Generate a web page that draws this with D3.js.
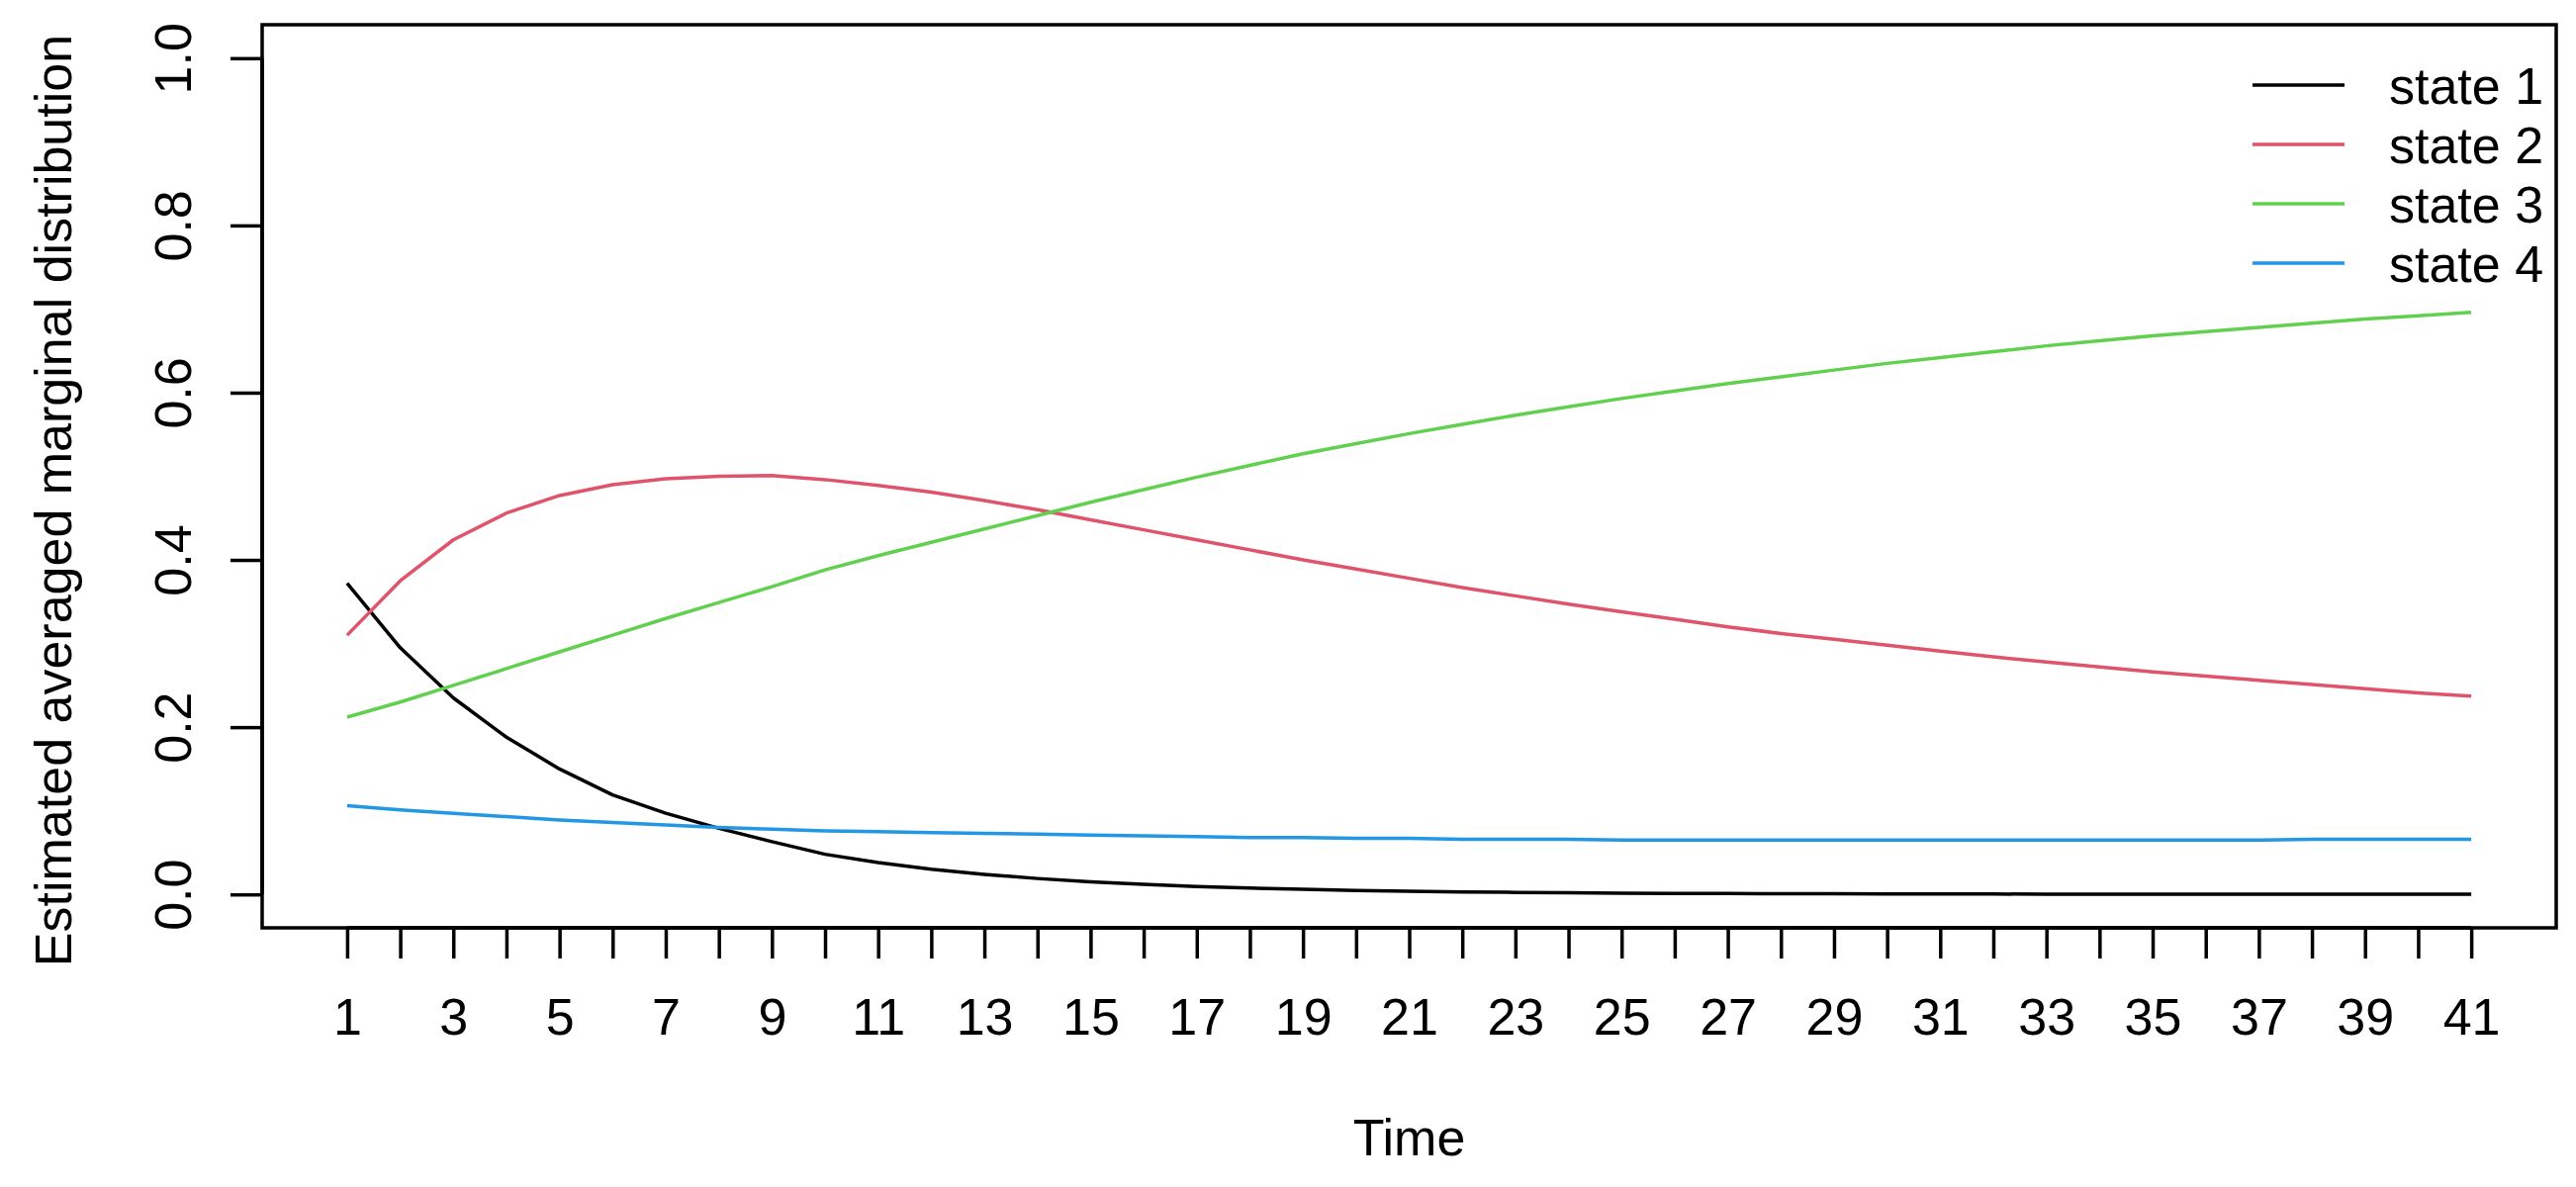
<!DOCTYPE html>
<html>
<head>
	<title>Estimated averaged marginal distribution</title>
	<style>
	body {
	  margin: 0;
	  background: #fff;
	  font-family: "Liberation Sans", Arial, sans-serif;
	}
	.axis path,
	.axis line {
	  fill: none;
	  stroke: #000;
	  stroke-width: 3.5px;
	}
	.axis text {
	  font-family: "Liberation Sans", Arial, sans-serif;
	  font-size: 52px;
	  fill: #000;
	}
	.line {
	  fill: none;
	  stroke-width: 3.5px;
	  stroke-linejoin: round;
	}
	.label {
	  font-size: 52px;
	  fill: #000;
	}
	</style>
	<script src="https://cdnjs.cloudflare.com/ajax/libs/d3/7.8.5/d3.min.js"></script>
</head>
<body>
	<script>
		// time points 1..41
		var times = d3.range(1, 42);
		var xTickLabels = ["1","3","5","7","9","11","13","15","17","19","21","23","25","27","29","31","33","35","37","39","41"];
		var yTickValues = [0, 0.2, 0.4, 0.6, 0.8, 1.0];
		var stateNames = ["state 1", "state 2", "state 3", "state 4"];
		var stateColors = ["#000000", "#DF536B", "#61D04F", "#2297E6"];

		var state1 = [0.372, 0.295, 0.235, 0.188, 0.150, 0.119, 0.097, 0.079, 0.063, 0.048,
			0.038, 0.030, 0.024, 0.019, 0.015, 0.012, 0.0095, 0.0075, 0.006, 0.0047,
			0.0037, 0.003, 0.0024, 0.0019, 0.0015, 0.0012, 0.001, 0.0008, 0.0007, 0.0006,
			0.0005, 0.0004, 0.0003, 0.0003, 0.0002, 0.0002, 0.0002, 0.0001, 0.0001, 0.0001, 0.0001];
		var state2 = [0.310, 0.375, 0.424, 0.456, 0.477, 0.490, 0.497, 0.500, 0.501, 0.496,
			0.489, 0.481, 0.471, 0.460, 0.448, 0.436, 0.424, 0.412, 0.400, 0.389,
			0.378, 0.367, 0.357, 0.347, 0.338, 0.329, 0.320, 0.312, 0.305, 0.298,
			0.291, 0.284, 0.278, 0.272, 0.266, 0.261, 0.256, 0.251, 0.246, 0.241, 0.237];
		var state3 = [0.212, 0.230, 0.250, 0.270, 0.290, 0.310, 0.330, 0.349, 0.368, 0.388,
			0.405, 0.421, 0.437, 0.453, 0.469, 0.484, 0.499, 0.513, 0.527, 0.539,
			0.551, 0.562, 0.573, 0.583, 0.593, 0.602, 0.611, 0.619, 0.627, 0.635,
			0.642, 0.649, 0.656, 0.662, 0.668, 0.673, 0.678, 0.683, 0.688, 0.692, 0.696];
		var state4 = [0.106, 0.101, 0.097, 0.093, 0.089, 0.086, 0.083, 0.080, 0.078, 0.076,
			0.075, 0.074, 0.073, 0.072, 0.071, 0.070, 0.069, 0.068, 0.068, 0.067,
			0.067, 0.066, 0.066, 0.066, 0.065, 0.065, 0.065, 0.065, 0.065, 0.065,
			0.065, 0.065, 0.065, 0.065, 0.065, 0.065, 0.065, 0.066, 0.066, 0.066, 0.066];

		var series = [state1, state2, state3, state4];

		var margin = {top: 25, right: 20, bottom: 262, left: 265},
		    width = 2604 - margin.left - margin.right,
		    height = 1200 - margin.top - margin.bottom;

		// R style 4% extension of the data range
		var x = d3.scaleLinear()
		    .domain([1 - 0.04 * 40, 41 + 0.04 * 40])
		    .range([0, width]);

		var y = d3.scaleLinear()
		    .domain([-0.04, 1.04])
		    .range([height, 0]);

		var line = d3.line()
		    .x(function(d, i) { return x(times[i]); })
		    .y(function(d) { return y(d); });

		var svg = d3.select("body").append("svg")
		    .attr("width", 2604)
		    .attr("height", 1200)
		  .append("g")
		    .attr("transform", "translate(" + margin.left + "," + margin.top + ")");

		// box
		svg.append("rect")
		    .attr("x", 0)
		    .attr("y", 0)
		    .attr("width", width)
		    .attr("height", height)
		    .attr("fill", "none")
		    .attr("stroke", "#000")
		    .attr("stroke-width", 3.5);

		var xAxis = svg.append("g")
		    .attr("class", "x axis")
		    .attr("transform", "translate(0," + height + ")")
		    .call(d3.axisBottom(x)
		        .tickValues(times)
		        .tickSize(31)
		        .tickSizeOuter(0)
		        .tickPadding(40)
		        .tickFormat(function(d) { return xTickLabels.indexOf(String(d)) >= 0 ? d : ""; }));
		xAxis.select(".domain").remove();
		xAxis.append("line")
		    .attr("x1", x(1)).attr("x2", x(41))
		    .attr("y1", 0).attr("y2", 0)
		    .attr("stroke-width", 5);

		var yAxis = svg.append("g")
		    .attr("class", "y axis")
		    .call(d3.axisLeft(y)
		        .tickValues(yTickValues)
		        .tickSize(32)
		        .tickSizeOuter(0)
		        .tickFormat(d3.format(".1f")));
		yAxis.select(".domain").remove();
		yAxis.append("line")
		    .attr("x1", 0).attr("x2", 0)
		    .attr("y1", y(0)).attr("y2", y(1))
		    .attr("stroke-width", 5);
		yAxis.selectAll(".tick text")
		    .attr("x", null)
		    .attr("dy", null)
		    .attr("text-anchor", "middle")
		    .attr("transform", "translate(-72,0) rotate(-90)");

		svg.selectAll(".series")
		    .data(series)
		    .enter()
		    .append("path")
		    .attr("class", "line")
		    .attr("stroke", function(d, i) { return stateColors[i]; })
		    .attr("d", line);

		// axis titles
		svg.append("text")
		    .attr("class", "label")
		    .attr("text-anchor", "middle")
		    .attr("x", width / 2)
		    .attr("y", 1168 - margin.top)
		    .text("Time");

		svg.append("text")
		    .attr("class", "label")
		    .attr("text-anchor", "middle")
		    .attr("transform", "translate(" + (72 - margin.left) + "," + (506 - margin.top) + ") rotate(-90)")
		    .text("Estimated averaged marginal distribution");

		// legend, top right, no frame
		var legend = svg.selectAll(".legend")
		    .data(stateNames)
		    .enter()
		    .append("g")
		    .attr("class", "legend")
		    .attr("transform", function(d, i) { return "translate(" + (2277 - margin.left) + "," + (86 - margin.top + i * 60) + ")"; });

		legend.append("line")
		    .attr("x1", 0)
		    .attr("x2", 93)
		    .attr("y1", 0)
		    .attr("y2", 0)
		    .attr("stroke", function(d, i) { return stateColors[i]; })
		    .attr("stroke-width", 3.5);

		legend.append("text")
		    .attr("class", "label")
		    .attr("x", 138)
		    .attr("y", 19)
		    .text(function(d) { return d; });
	</script>
</body>
</html>
